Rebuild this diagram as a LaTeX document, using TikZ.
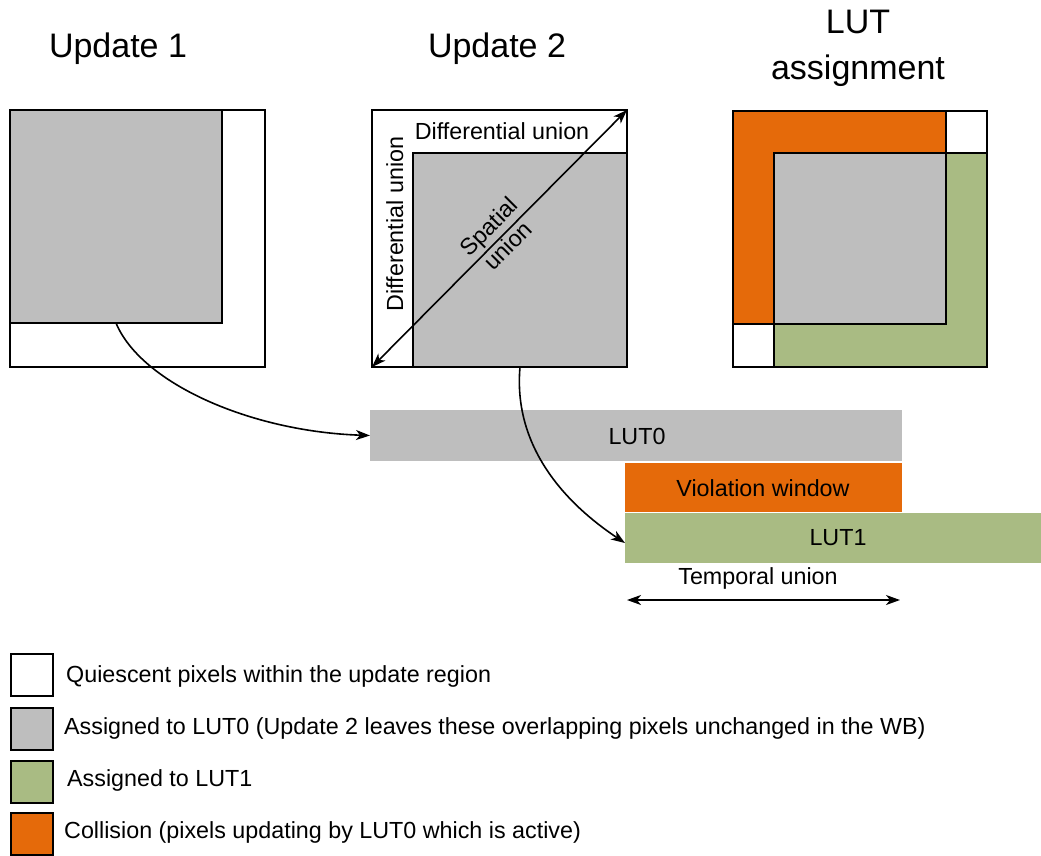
\documentclass[tikz,border=0pt]{standalone}
\usepackage{fontspec}
\setmainfont{Liberation Sans}
\usetikzlibrary{arrows.meta}
\definecolor{lutgray}{RGB}{190,190,190}
\definecolor{lutorange}{RGB}{229,106,10}
\definecolor{lutgreen}{RGB}{169,187,131}
\begin{document}
\begin{tikzpicture}[x=1pt,y=-1pt,
  region/.style={draw=black,line width=2pt,inner sep=0pt,outer sep=0pt,anchor=north west},
  bar/.style={inner sep=0pt,outer sep=0pt,anchor=north west},
  small/.style={font=\fontsize{23.3}{28}\selectfont,inner sep=0pt},
  title/.style={font=\fontsize{34}{46}\selectfont,inner sep=0pt},
  conn/.style={line width=1.6pt,-{Stealth[length=14pt,width=10pt,inset=4pt]}},
  dconn/.style={line width=1.6pt,{Stealth[length=14pt,width=10pt,inset=4pt]}-{Stealth[length=14pt,width=10pt,inset=4pt]}},
  legbox/.style={draw=black,line width=2pt,inner sep=0pt,minimum width=42pt,minimum height=42pt,anchor=north west}
]
\useasboundingbox (0,0) rectangle (1041,855);
\fill[white] (0,0) rectangle (1041,855);

% titles
\node[title,anchor=base] (t1) at (118,57) {Update 1};
\node[title,anchor=base] (t2) at (497,57) {Update 2};
\node[title,anchor=base] (t3a) at (858,33) {LUT};
\node[title,anchor=base] (t3b) at (858,79) {assignment};

% Update 1
\node[region,fill=white,minimum width=255pt,minimum height=257pt] (u1o) at (10,110) {};
\node[region,fill=lutgray,minimum width=212pt,minimum height=213pt] (u1g) at (10,110) {};

% Update 2
\node[region,fill=white,minimum width=255pt,minimum height=257pt] (u2o) at (372,110) {};
\node[region,fill=lutgray,minimum width=214pt,minimum height=214pt] (u2g) at (413,153) {};
\node[small,anchor=base] (du1) at (502,139) {Differential union};
\node[small,rotate=90,anchor=base] (du2) at (403,224) {Differential union};
\draw[dconn] (u2o.south west) -- (u2o.north east);
\node[small,rotate=45,align=center,font=\fontsize{23.3}{27}\selectfont] (su) at (498,236) {Spatial\\union};

% LUT assignment
\node[region,fill=white,minimum width=254pt,minimum height=256pt] (lao) at (733,111) {};
\node[region,fill=lutorange,minimum width=213pt,minimum height=213pt] (lor) at (733,111) {};
\node[region,fill=lutgreen,minimum width=213pt,minimum height=214pt] (lgr) at (774,153) {};
\node[region,fill=lutgray,minimum width=172pt,minimum height=171pt] (lgy) at (774,153) {};

% LUT bars
\node[bar,fill=lutgray,minimum width=532pt,minimum height=51pt] (lut0) at (370,410) {};
\node[small] (lut0t) at (637,436) {LUT0};
\node[bar,fill=lutorange,minimum width=277pt,minimum height=49pt] (vw) at (625,463) {};
\node[small] (vwt) at (763,488) {Violation window};
\node[bar,fill=lutgreen,minimum width=416pt,minimum height=50pt] (lut1) at (625,513) {};
\node[small] (lut1t) at (838,538) {LUT1};

% temporal union
\node[small] (tu) at (758,578) {Temporal union};
\coordinate (ta) at (627,600);
\coordinate (tb) at (900,600);
\draw[dconn] (ta) -- (tb);

% curved connectors
\draw[conn] (u1g.south) .. controls +(25,60) and +(-120,-4) .. (lut0.west);
\draw[conn] (u2g.south) .. controls +(-8,90) and +(-45,-30) .. ([yshift=-5pt]lut1.west);

% legend
\node[legbox,fill=white] (lg1) at (10,653) {};
\node[legbox,fill=lutgray] (lg2) at (10,707) {};
\node[legbox,fill=lutgreen] (lg3) at (10,760) {};
\node[legbox,fill=lutorange] (lg4) at (10,812) {};
\node[small,anchor=base west] (lt1) at (66,682) {Quiescent pixels within the update region};
\node[small,anchor=base west] (lt2) at (64,734) {Assigned to LUT0 (Update 2 leaves these overlapping pixels unchanged in the WB)};
\node[small,anchor=base west] (lt3) at (67,786) {Assigned to LUT1};
\node[small,anchor=base west] (lt4) at (64,838) {Collision (pixels updating by LUT0 which is active)};
\end{tikzpicture}
\end{document}
